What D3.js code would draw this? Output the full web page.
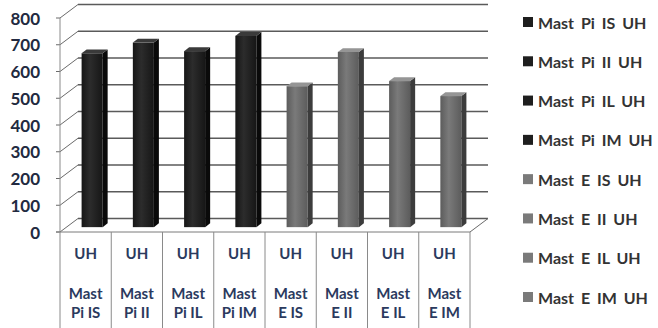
<!DOCTYPE html>
<html>
<head>
<meta charset="utf-8">
<script src="https://cdn.jsdelivr.net/npm/d3@7"></script>
<style>
  body { margin: 0; background: #fff; }
  svg { display: block; }
  text { font-family: Lato, "Open Sans", sans-serif; font-weight: 700; }
</style>
</head>
<body>
<svg id="chart" width="658" height="328"></svg>
<script>
// Categories (one series per category, as in the legend)
const categories = ["Mast Pi IS", "Mast Pi II", "Mast Pi IL", "Mast Pi IM",
                    "Mast E IS", "Mast E II", "Mast E IL", "Mast E IM"];
const tableFirstLine = ["Mast", "Mast", "Mast", "Mast", "Mast", "Mast", "Mast", "Mast"];
const tableSecondLine = ["Pi IS", "Pi II", "Pi IL", "Pi IM", "E IS", "E II", "E IL", "E IM"];
const rowLabel = "UH";
const seriesNames = ["Mast Pi IS UH", "Mast Pi II UH", "Mast Pi IL UH", "Mast Pi IM UH",
                     "Mast E IS UH", "Mast E II UH", "Mast E IL UH", "Mast E IM UH"];
const values = [650, 690, 658, 715, 527, 655, 546, 490];
const groupOf = ["Pi", "Pi", "Pi", "Pi", "E", "E", "E", "E"];
const yTicks = [0, 100, 200, 300, 400, 500, 600, 700, 800];

const svg = d3.select("#chart");

// 3D box geometry: full depth shifts points right and up
const DX = 18, DY = 13.5;
const y = d3.scaleLinear().domain([0, 800]).range([232, 18]);
const x = d3.scaleBand().domain(categories).range([60, 470]).padding(0);

const palette = {
  Pi: { front0: "#2c2c2c", front1: "#161616", side: "#0a0a0a", top: "#3a3a3a", key: "#1e1e1e" },
  E:  { front0: "#7a7a7a", front1: "#5c5c5c", side: "#3c3c3c", top: "#959595", key: "#7a7a7a" }
};

const defs = svg.append("defs");
Object.entries(palette).forEach(([k, p]) => {
  const g = defs.append("linearGradient").attr("id", "grad-" + k)
    .attr("x1", 0).attr("x2", 1).attr("y1", 0).attr("y2", 0);
  g.append("stop").attr("offset", "0%").attr("stop-color", p.front1);
  g.append("stop").attr("offset", "40%").attr("stop-color", p.front0);
  g.append("stop").attr("offset", "100%").attr("stop-color", p.front1);
});

const frame = svg.append("g");

// back wall gridlines
frame.selectAll(".grid").data(yTicks).join("line")
  .attr("x1", x.range()[0] + DX).attr("x2", x.range()[1] + DX)
  .attr("y1", d => y(d) - DY).attr("y2", d => y(d) - DY)
  .attr("stroke", "#5a5a5a").attr("stroke-width", 1.3);

// side wall diagonals
frame.selectAll(".wall").data(yTicks).join("line")
  .attr("x1", x.range()[0]).attr("x2", x.range()[0] + DX)
  .attr("y1", d => y(d)).attr("y2", d => y(d) - DY)
  .attr("stroke", "#6a6a6a").attr("stroke-width", 1);

// tick marks
frame.selectAll(".tick").data(yTicks).join("line")
  .attr("x1", x.range()[0] - 4).attr("x2", x.range()[0])
  .attr("y1", d => y(d)).attr("y2", d => y(d))
  .attr("stroke", "#6a6a6a").attr("stroke-width", 1);

// front vertical axis
frame.append("line")
  .attr("x1", x.range()[0]).attr("x2", x.range()[0])
  .attr("y1", y(800)).attr("y2", y(0))
  .attr("stroke", "#8a8a8a").attr("stroke-width", 1);

// floor right edge
frame.append("line")
  .attr("x1", x.range()[1]).attr("x2", x.range()[1] + DX)
  .attr("y1", y(0)).attr("y2", y(0) - DY)
  .attr("stroke", "#6a6a6a").attr("stroke-width", 1);

// y tick labels
svg.selectAll(".ylab").data(yTicks).join("text")
  .attr("x", 40).attr("y", d => y(d))
  .attr("text-anchor", "end").attr("dominant-baseline", "central")
  .attr("font-size", 17).attr("fill", "#222a40")
  .text(d => d);

// bars
const d0 = 0.36, d1 = 0.64;
const bw = x.bandwidth() * 0.41;
const sdx = DX * (d1 - d0), sdy = DY * (d1 - d0);
const bars = svg.append("g").selectAll("g").data(categories).join("g");
bars.each(function (c, i) {
  const g = d3.select(this);
  const p = palette[groupOf[i]];
  const bx = x(c) + x.bandwidth() / 2 - bw / 2 + DX * d0;
  const yb = y(0) - DY * d0;
  const yt = y(values[i]) - DY * d0;
  g.append("rect").attr("x", bx).attr("y", yt).attr("width", bw).attr("height", yb - yt)
    .attr("fill", "url(#grad-" + groupOf[i] + ")");
  g.append("polygon")
    .attr("points", [[bx + bw, yt], [bx + bw + sdx, yt - sdy], [bx + bw + sdx, yb - sdy], [bx + bw, yb]].join(" "))
    .attr("fill", p.side);
  g.append("polygon")
    .attr("points", [[bx, yt], [bx + sdx, yt - sdy], [bx + bw + sdx, yt - sdy], [bx + bw, yt]].join(" "))
    .attr("fill", p.top);
});

// data table below the axis
const table = svg.append("g");
table.append("line")
  .attr("x1", x.range()[0] - 4).attr("x2", x.range()[1])
  .attr("y1", y(0)).attr("y2", y(0))
  .attr("stroke", "#7a7a7a").attr("stroke-width", 1);
const edges = categories.map(c => x(c)).concat([x.range()[1]]);
table.selectAll(".vline").data(edges).join("line")
  .attr("x1", d => d).attr("x2", d => d)
  .attr("y1", y(0)).attr("y2", 328)
  .attr("stroke", "#8a8a8a").attr("stroke-width", 1);
const cellText = (cls, yPos, fn) => table.selectAll("." + cls).data(categories).join("text")
  .attr("x", c => x(c) + x.bandwidth() / 2).attr("y", yPos)
  .attr("text-anchor", "middle").attr("dominant-baseline", "central")
  .attr("font-size", 15).attr("fill", "#2b3a5e").text(fn);
cellText("uh", 253, () => rowLabel);
cellText("l1", 293, (c, i) => tableFirstLine[i]);
cellText("l2", 312, (c, i) => tableSecondLine[i]);

// legend
const ly = d3.scalePoint().domain(seriesNames).range([22, 297]);
const legend = svg.append("g").selectAll("g").data(seriesNames).join("g")
  .attr("transform", d => `translate(523,${ly(d)})`);
legend.append("rect").attr("x", 0).attr("y", -5).attr("width", 10).attr("height", 10)
  .attr("fill", (d, i) => palette[groupOf[i]].key);
legend.append("text").attr("x", 15).attr("y", 0).attr("dominant-baseline", "central")
  .attr("font-size", 16).attr("word-spacing", 3).attr("fill", "#333").text(d => d);
</script>
</body>
</html>
